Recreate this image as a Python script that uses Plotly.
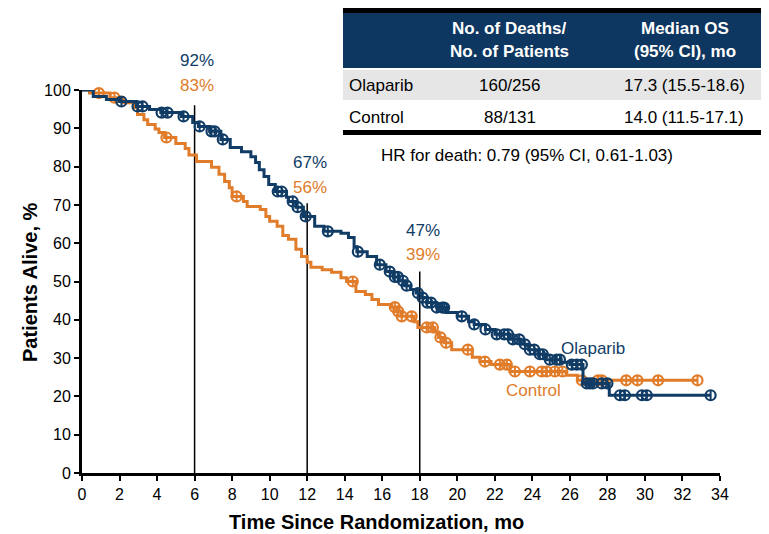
import numpy as np
import plotly.graph_objects as go

# ---------------- data ----------------
olap_t = [0, 0.6, 1.3, 2.0, 2.9, 3.6, 4.2, 5.3, 5.9, 6.2, 6.8, 7.4, 7.9, 8.5, 9.0, 9.25, 9.45, 9.7,
          9.95, 10.3, 10.9, 11.0, 11.4, 11.8, 12.4, 12.9, 13.8, 14.2, 14.5, 14.65, 15.2, 15.7, 16.2,
          16.6, 16.9, 17.2, 17.5, 17.8, 18.1, 18.4, 18.9, 19.4, 20.0, 20.6, 20.9, 21.5, 22.0, 22.8,
          23.4, 23.8, 24.3, 24.7, 25.5, 26.0, 26.7, 28.1, 33.5]
olap_s = [100, 98.3, 97.5, 97.0, 95.7, 94.9, 94.1, 93.1, 91.5, 90.5, 89.2, 87.1, 85.0, 83.9, 82.6, 81.1,
          79.2, 77.4, 75.3, 73.5, 72.0, 70.9, 69.4, 67.0, 64.4, 63.1, 62.6, 61.5, 59.1, 57.8, 56.5, 54.4,
          52.6, 51.2, 50.2, 48.9, 47.9, 47.0, 45.8, 44.5, 43.2, 41.9, 40.9, 39.5, 38.8, 37.5, 36.2, 34.9,
          33.6, 32.2, 31.0, 29.6, 28.9, 28.3, 23.4, 20.3, 20.3]
olap_cens = [2.1, 2.96, 3.23, 4.24, 4.56, 5.41, 6.27, 6.9, 7.07, 7.5, 10.43, 10.64, 11.23, 11.49, 11.92,
             13.1, 14.7, 15.87, 16.4, 16.67, 16.83, 17.1, 17.3, 17.9, 18.15, 18.4, 18.6, 18.9, 19.2, 19.3,
             20.24, 20.9, 21.5, 22.1, 22.5, 22.7, 22.96, 23.3, 23.6, 23.87, 24.1, 24.4, 24.56, 24.93, 25.3,
             25.47, 26.1, 26.37, 26.64, 26.9, 27.07, 27.23, 27.7, 28.0, 28.67, 28.93, 29.84, 30.1, 33.5]

ctrl_t = [0, 0.4, 1.5, 2.2, 2.8, 2.96, 3.3, 3.5, 3.9, 4.1, 4.4, 5.0, 5.5, 5.7, 6.1, 6.9, 7.3, 7.6, 7.85,
          8.0, 8.6, 8.8, 9.5, 9.8, 10.0, 10.4, 10.7, 11.0, 11.4, 11.7, 12.0, 12.2, 12.8, 13.3, 13.8, 14.1,
          14.6, 15.1, 15.45, 15.8, 16.5, 16.8, 17.0, 17.7, 17.9, 18.8, 19.0, 19.3, 19.7, 20.8, 21.2, 21.8,
          22.8, 25.8, 26.4, 32.8]
ctrl_s = [100, 99.2, 98.0, 96.7, 95.4, 93.6, 92.2, 91.0, 89.8, 88.9, 87.6, 86.0, 84.7, 83.0, 81.3, 79.8,
          78.0, 76.1, 74.5, 72.2, 70.9, 69.6, 68.8, 67.0, 65.7, 64.4, 62.0, 61.0, 58.4, 56.5, 55.0, 53.7,
          53.1, 52.4, 51.0, 50.0, 47.4, 46.6, 45.3, 44.0, 43.3, 42.2, 40.9, 39.5, 38.0, 36.8, 35.4, 34.0,
          32.2, 30.2, 29.1, 28.3, 26.5, 25.5, 24.2, 24.2]
ctrl_cens = [0.9, 1.73, 4.5, 8.24, 14.43, 16.67, 16.85, 17.04, 17.57, 18.37, 18.7, 19.1, 19.4, 20.56,
             21.47, 22.27, 22.64, 23.07, 23.87, 24.5, 24.77, 25.2, 25.6, 26.64, 27.5, 27.7, 29.0, 29.6,
             30.7, 32.8]

landmark_months = [6, 12, 18]
landmark_olap = ["92%", "67%", "47%"]
landmark_ctrl = ["83%", "56%", "39%"]
landmark_line_top = [96, 70.4, 52.6]

x_ticks = list(range(0, 35, 2))
y_ticks = list(range(0, 101, 10))

table_header = [["No. of Deaths/", "No. of Patients"], ["Median OS", "(95% CI), mo"]]
table_arms = ["Olaparib", "Control"]
table_deaths = ["160/256", "88/131"]
table_median = ["17.3 (15.5-18.6)", "14.0 (11.5-17.1)"]
hr_text = "HR for death: 0.79 (95% CI, 0.61-1.03)"

# ---------------- style / layout ----------------
BLUE = "#103c66"
ORANGE = "#e07c2a"
NAVY = "#0d3660"
FONT = "Liberation Sans, Arial, sans-serif"

OFF = 8                      # page body margin
W, H = 769 - OFF, 534 - OFF
SL, SR, ST, SB = 82, 720, 90, 473   # plot area in screen pixels
ML, MR, MT, MB = SL - OFF, W - (SR - OFF), ST - OFF, H - (SB - OFF)
PW, PH = SR - SL, SB - ST


def px(x):
    return (x - SL) / PW


def py(y):
    return (SB - y) / PH


def step_value(ts, ss, t):
    idx = np.searchsorted(np.asarray(ts), t, side="right") - 1
    return np.asarray(ss)[idx]


fig = go.Figure()

for ts, ss, cens, col, name in [(ctrl_t, ctrl_s, ctrl_cens, ORANGE, "Control"),
                                 (olap_t, olap_s, olap_cens, BLUE, "Olaparib")]:
    fig.add_trace(go.Scatter(x=ts, y=ss, mode="lines", line=dict(color=col, width=3, shape="hv"),
                             name=name, showlegend=False, cliponaxis=False))
    cy = [step_value(ts, ss, c) for c in cens]
    fig.add_trace(go.Scatter(x=cens, y=cy, mode="markers",
                             marker=dict(symbol="circle-open", size=10, color=col, line=dict(width=2.2, color=col)),
                             showlegend=False, cliponaxis=False))
    fig.add_trace(go.Scatter(x=cens, y=cy, mode="markers",
                             marker=dict(symbol="line-ns-open", size=7, color=col, line=dict(width=2, color=col)),
                             showlegend=False, cliponaxis=False))

shapes = []
for m, top in zip(landmark_months, landmark_line_top):
    shapes.append(dict(type="line", xref="x", yref="y", x0=m, x1=m, y0=0, y1=top,
                       line=dict(color="black", width=1.5), layer="below"))

# table
shapes.append(dict(type="rect", xref="paper", yref="paper", x0=px(343), x1=px(780), y0=py(68), y1=py(12),
                   fillcolor=NAVY, line=dict(width=0)))
shapes.append(dict(type="rect", xref="paper", yref="paper", x0=px(343), x1=px(780), y0=py(13), y1=py(8),
                   fillcolor="black", line=dict(width=0)))
shapes.append(dict(type="rect", xref="paper", yref="paper", x0=px(343), x1=px(780), y0=py(100), y1=py(70),
                   fillcolor="#e6e6e6", line=dict(width=0)))
shapes.append(dict(type="rect", xref="paper", yref="paper", x0=px(343), x1=px(780), y0=py(135), y1=py(130),
                   fillcolor="black", line=dict(width=0)))

ann = []


def txt(x, y, text, size, color, bold=False, xanchor="center", angle=0, xref="paper"):
    if bold:
        text = "<b>" + text + "</b>"
    ann.append(dict(x=x, y=py(y), xref=xref, yref="paper", text=text, showarrow=False,
                    xanchor=xanchor, yanchor="middle", textangle=angle,
                    font=dict(family=FONT, size=size, color=color)))


pct_y = [(60, 85), (162, 187), (230, 254)]
for m, lo, lc, (yo, yc) in zip(landmark_months, landmark_olap, landmark_ctrl, pct_y):
    txt(m + 0.15, yo, lo, 17, BLUE, xref="x")
    txt(m + 0.15, yc, lc, 17, ORANGE, xref="x")

txt(px(593), 348, "Olaparib", 17, BLUE)
txt(px(533), 390, "Control", 17, ORANGE)

for lines, cx in zip(table_header, [510, 685]):
    txt(px(cx), 29, lines[0], 17, "white", bold=True)
    txt(px(cx), 52, lines[1], 17, "white", bold=True)
for arm, d, med, ry in zip(table_arms, table_deaths, table_median, [85, 117]):
    txt(px(347), ry, arm, 17, "black", xanchor="left")
    txt(px(510), ry, d, 17, "black")
    txt(px(684), ry, med, 17, "black")
txt(px(527), 155, hr_text, 17, "black")

txt(px(376), 522, "Time Since Randomization, mo", 20, "black", bold=True)
txt(px(30), 282, "Patients Alive, %", 20, "black", bold=True, angle=-90)

fig.update_layout(
    width=W, height=H, margin=dict(l=ML, r=MR, t=MT, b=MB, autoexpand=False),
    paper_bgcolor="white", plot_bgcolor="white",
    shapes=shapes, annotations=ann,
    xaxis=dict(range=[0, 34], tickvals=x_ticks, ticktext=[str(v) for v in x_ticks], showgrid=False,
               zeroline=False, showline=True, linecolor="black", linewidth=3, ticks="outside",
               ticklen=5, tickwidth=2, tickcolor="black", automargin=False,
               tickfont=dict(family=FONT, size=16, color="black")),
    yaxis=dict(range=[0, 100], tickvals=y_ticks, ticktext=[str(v) for v in y_ticks], showgrid=False,
               zeroline=False, showline=True, linecolor="black", linewidth=3, ticks="outside",
               ticklen=5, tickwidth=2, tickcolor="black", automargin=False,
               tickfont=dict(family=FONT, size=16, color="black")),
)

fig.write_html("out.html")
